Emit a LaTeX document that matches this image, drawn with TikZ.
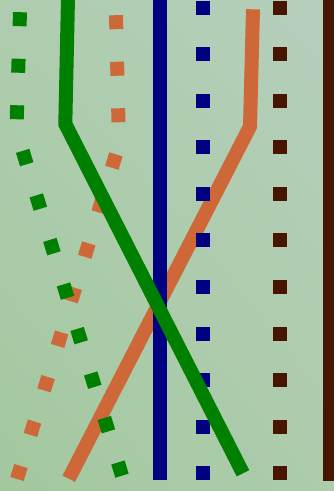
\documentclass[tikz,border=0pt]{standalone}
\usepackage{xcolor}
\usepackage{tikz}
\usetikzlibrary{shadings}

\definecolor{stGreen}{RGB}{0,128,0}
\definecolor{stOrange}{RGB}{206,104,56}
\definecolor{stNavy}{RGB}{0,0,128}
\definecolor{stBrown}{RGB}{72,22,0}
\definecolor{bgUL}{RGB}{174,205,175}
\definecolor{bgUR}{RGB}{182,207,188}
\definecolor{bgLL}{RGB}{163,200,158}
\definecolor{bgLR}{RGB}{172,204,172}

\begin{document}
\begin{tikzpicture}[
  x=1pt, y=-1pt,
  strand/.style={line width=14pt, draw=#1},
  dotstrand/.style={line width=14pt, draw=#1, dash pattern=on 14pt off 32.55pt}
]
  \useasboundingbox (0,0) rectangle (334,491);
  \clip (0,0) rectangle (334,491);
  \shade[upper left=bgUL, upper right=bgUR, lower left=bgLL, lower right=bgLR]
    (0,0) rectangle (334,491);

  % end and bend points of the strands
  \coordinate (gtop) at (68,-2);      \coordinate (gbend) at (65.3,124);  \coordinate (gend) at (243,473.3);
  \coordinate (otop) at (253,9.3);    \coordinate (obend) at (250,126.5); \coordinate (oend) at (68.8,478.7);
  \coordinate (gdtop) at (20,12.2);   \coordinate (gdbend) at (16.4,130.5); \coordinate (gdend) at (122,475.7);
  \coordinate (odtop) at (116,15.2);  \coordinate (odbend) at (119,144.3);  \coordinate (odend) at (17,479);
  \coordinate (btop) at (159.7,-2);   \coordinate (bend) at (159.7,480.3);
  \coordinate (rtop) at (329.7,-2);   \coordinate (rend) at (329.7,480.5);
  \coordinate (bdtop) at (202.7,0.7); \coordinate (bdend) at (202.7,480.3);
  \coordinate (rdtop) at (280,0.7);   \coordinate (rdend) at (280,480.3);

  \draw[dotstrand=stOrange] (odtop) -- (odbend) -- (odend);
  \draw[strand=stOrange] (otop) -- (obend) -- (oend);
  \draw[strand=stNavy] (btop) -- (bend);
  \draw[dotstrand=stNavy] (bdtop) -- (bdend);
  \draw[strand=stBrown] (rtop) -- (rend);
  \draw[dotstrand=stBrown] (rdtop) -- (rdend);
  \draw[dotstrand=stGreen] (gdtop) -- (gdbend) -- (gdend);
  \draw[strand=stGreen] (gtop) -- (gbend) -- (gend);
\end{tikzpicture}
\end{document}
